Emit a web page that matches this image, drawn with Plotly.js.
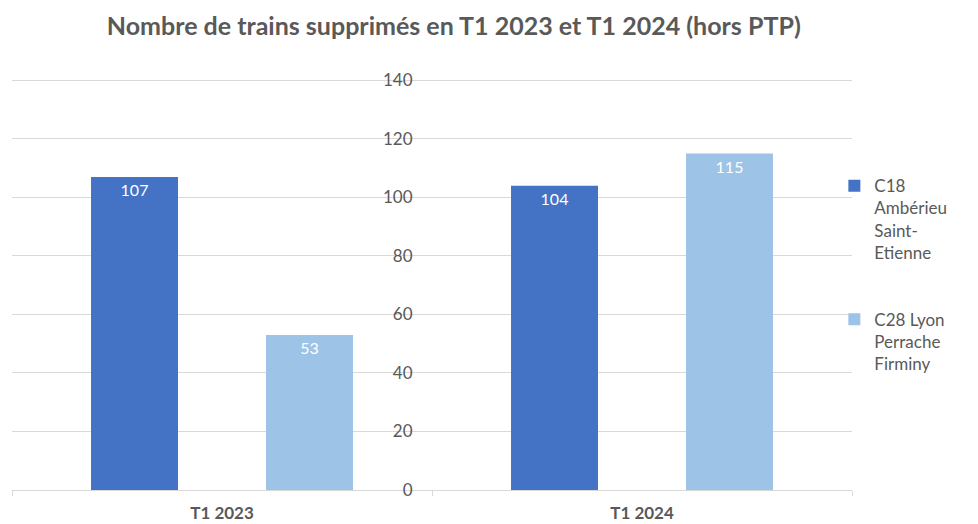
<!DOCTYPE html>
<html>
<head>
<meta charset="utf-8">
<script src="https://cdn.plot.ly/plotly-3.0.1.min.js"></script>
<style>html,body{margin:0;padding:0;background:#fff;}#chart{width:978px;height:524px;}</style>
</head>
<body>
<div id="chart"></div>
<script>
const categories = ["T1 2023", "T1 2024"];
const categoryLabels = ["<b>T1 2023</b>", "<b>T1 2024</b>"];
const seriesNames = ["C18<br>Ambérieu<br>Saint-<br>Etienne", "C28 Lyon<br>Perrache<br>Firminy"];
const c18Values = [107, 104];
const c28Values = [53, 115];
const yTicks = [0, 20, 40, 60, 80, 100, 120, 140];

const FONT = "Lato, 'Open Sans', sans-serif";
const GRAY = "#595959";

const traces = [
  {
    type: "bar", name: seriesNames[0], x: categories, y: c18Values,
    marker: {color: "#4472C4"}, legendgroup: "a",
    text: c18Values.map(String), textposition: "inside", insidetextanchor: "end",
    textangle: 0, constraintext: "none",
    textfont: {color: "#ffffff", size: 16, family: FONT}, hoverinfo: "skip"
  },
  {
    type: "bar", name: seriesNames[1], x: categories, y: c28Values,
    marker: {color: "#9DC3E6"}, legendgroup: "b",
    text: c28Values.map(String), textposition: "inside", insidetextanchor: "end",
    textangle: 0, constraintext: "none",
    textfont: {color: "#ffffff", size: 16, family: FONT}, hoverinfo: "skip"
  }
];

const layout = {
  width: 978, height: 524,
  margin: {l: 12, r: 126, t: 78.5, b: 34},
  paper_bgcolor: "#ffffff", plot_bgcolor: "#ffffff",
  font: {family: FONT, color: GRAY},
  title: {
    text: "<b>Nombre de trains supprimés en T1 2023 et T1 2024 (hors PTP)</b>",
    font: {size: 25, family: FONT, color: GRAY},
    x: 0.464, xanchor: "center", xref: "container",
    y: 0.95, yanchor: "middle", yref: "container"
  },
  barmode: "group", bargap: 0.1667, bargroupgap: 0.503,
  xaxis: {
    type: "category", tickvals: categories, ticktext: categoryLabels,
    showgrid: false, showline: true, linecolor: "#d9d9d9", linewidth: 1,
    ticks: "outside", tickson: "boundaries", ticklen: 5, tickcolor: "#d9d9d9",
    ticklabelstandoff: 8,
    tickfont: {size: 17, family: FONT, color: GRAY},
    zeroline: false, fixedrange: true
  },
  yaxis: {
    range: [0, 140.5], tickvals: yTicks, ticktext: yTicks.map(String),
    anchor: "free", position: 0.5, side: "left",
    showgrid: true, gridcolor: "#d9d9d9", gridwidth: 1,
    showline: false, zeroline: false,
    ticks: "outside", ticklen: 16, tickcolor: "rgba(0,0,0,0)",
    tickfont: {size: 17, family: FONT, color: GRAY}, fixedrange: true
  },
  showlegend: true,
  legend: {
    x: 0.979, xanchor: "left", y: 0.783, yanchor: "top", valign: "top",
    font: {size: 17, family: FONT, color: GRAY},
    tracegroupgap: 42, traceorder: "grouped", bgcolor: "rgba(0,0,0,0)"
  }
};

Plotly.newPlot("chart", traces, layout, {displayModeBar: false, staticPlot: true});
</script>
</body>
</html>
